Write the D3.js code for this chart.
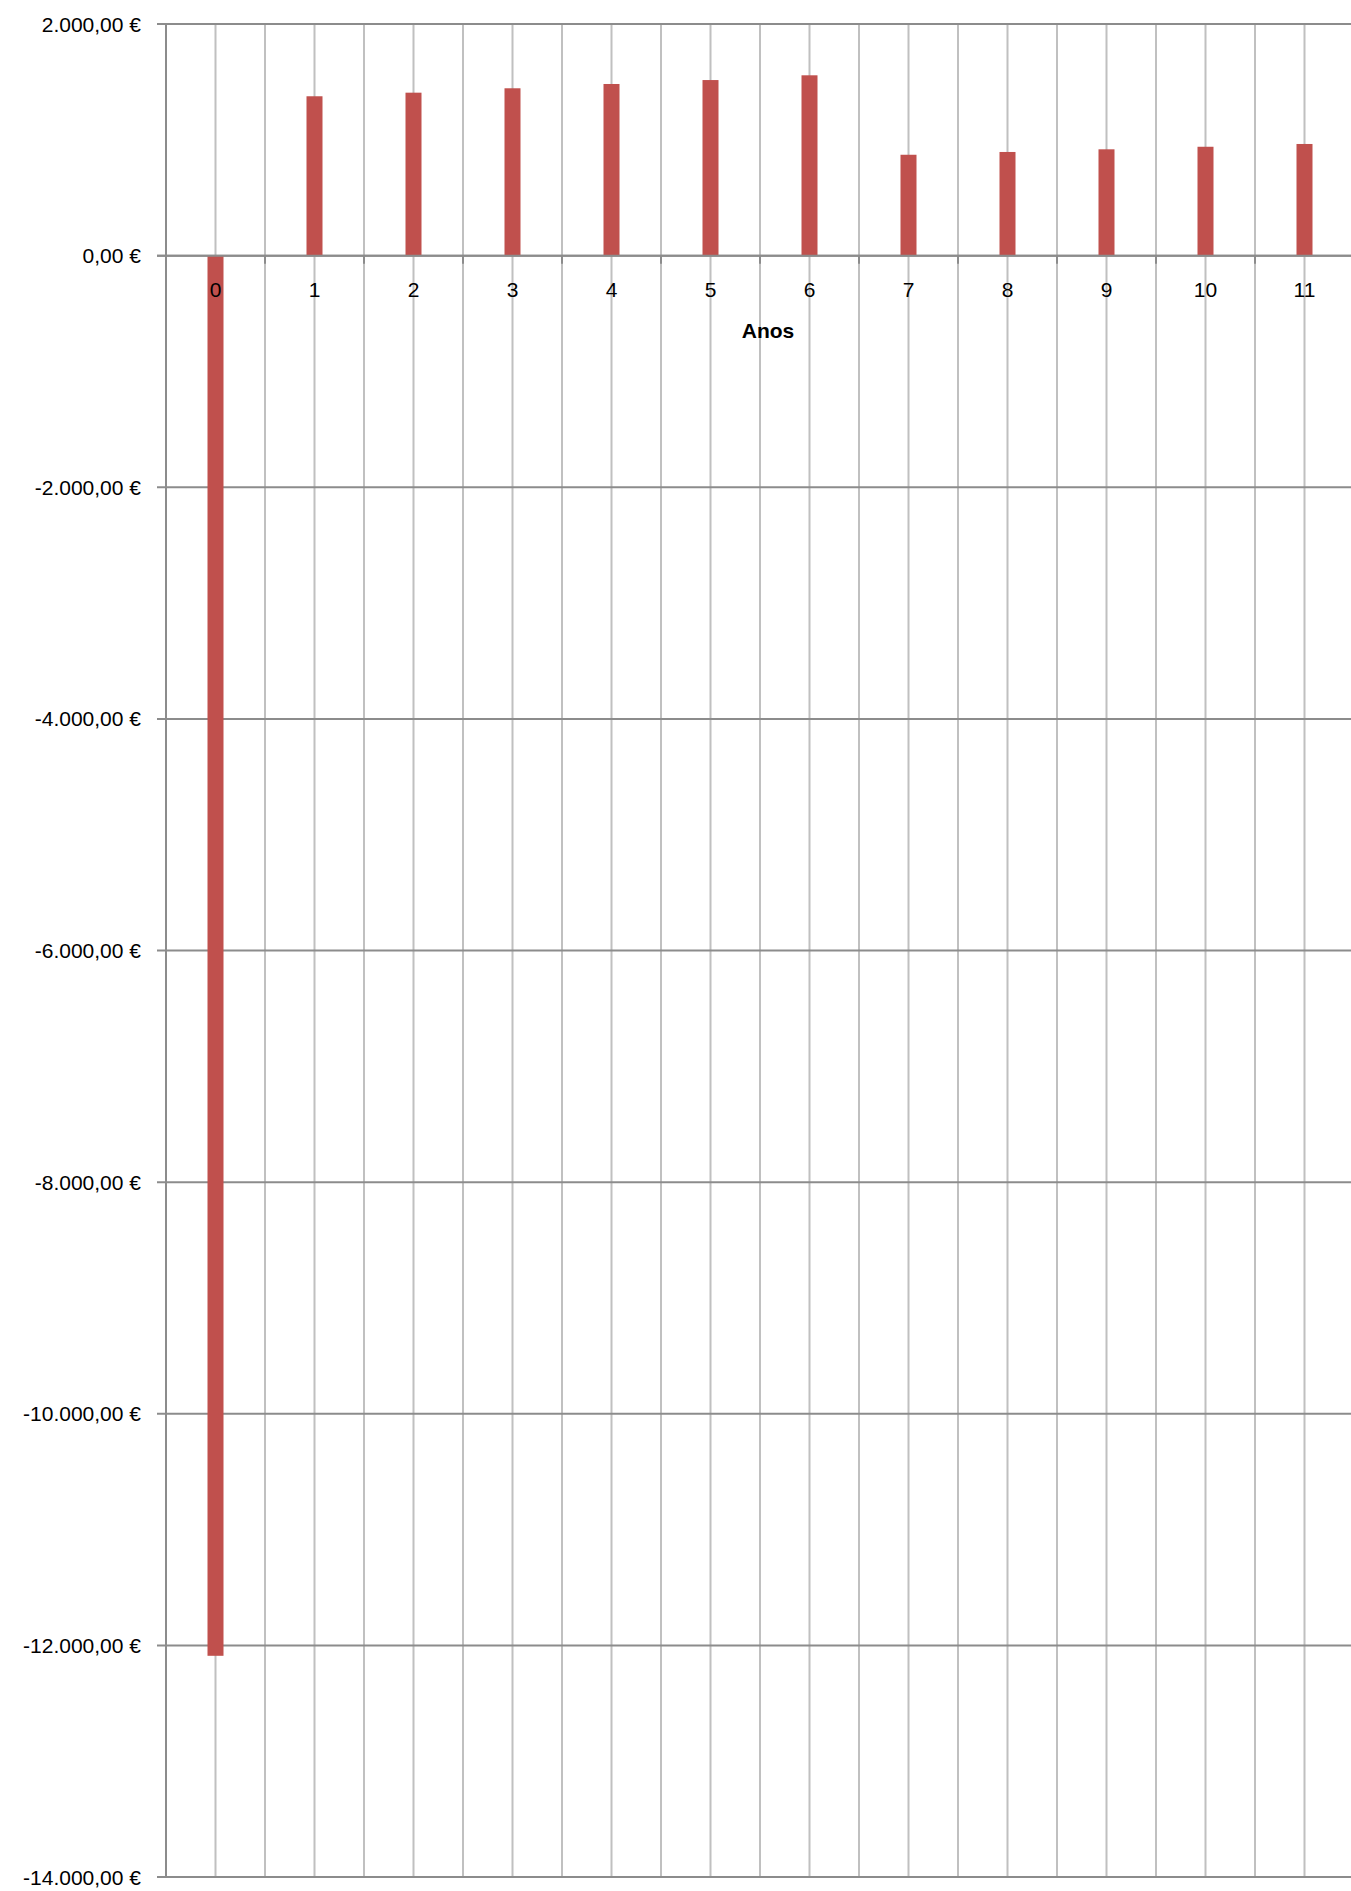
<!DOCTYPE html>
<html lang="pt">
<head>
    <meta charset="UTF-8">
    <title>Cash flow por ano</title>
    <script src="https://d3js.org/d3.v7.min.js"></script>
    <style>
        body { margin: 0; background: #fff; }
        svg { display: block; font-family: "Liberation Sans", Arial, sans-serif; }
        .hgrid { stroke: #8c8c8c; stroke-width: 2; }
        .vgrid { stroke: #c0c0c0; stroke-width: 2; }
        .tick-lab { font-size: 21px; fill: #000; }
    </style>
</head>
<body>
    <svg></svg>
    <script>
        // data
        const anos = [0, 1, 2, 3, 4, 5, 6, 7, 8, 9, 10, 11];
        const valores = [-12090, 1376, 1407, 1445, 1482, 1516, 1557, 871, 895, 918, 940, 964];
        const yTicks = [-14000, -12000, -10000, -8000, -6000, -4000, -2000, 0, 2000];

        const width = 1351, height = 1891;
        const svg = d3.select("svg").attr("width", width).attr("height", height);

        const plotLeft = 166, plotTop = 24, plotBottom = 1877;
        const x = d3.scaleBand().domain(anos).range([plotLeft, plotLeft + 12 * 99]);
        const y = d3.scaleLinear().domain([-14000, 2000]).range([plotBottom, plotTop]);

        const pt = d3.formatLocale({ decimal: ",", thousands: ".", grouping: [3], currency: ["", " €"], minus: "-" });
        const fmt = pt.format("$,.2f");

        // vertical gridlines: at category centres and boundaries
        const bounds = anos.map(d => x(d)).concat([x(11) + x.bandwidth()]);
        svg.append("g").selectAll("line")
            .data(bounds.concat(anos.map(d => x(d) + x.bandwidth() / 2)))
            .enter().append("line")
            .attr("class", "vgrid")
            .attr("x1", d => d).attr("x2", d => d)
            .attr("y1", plotTop).attr("y2", plotBottom);

        // horizontal gridlines
        svg.append("g").selectAll("line")
            .data(yTicks)
            .enter().append("line")
            .attr("class", "hgrid")
            .attr("x1", plotLeft - 9).attr("x2", width)
            .attr("y1", d => y(d)).attr("y2", d => y(d));

        // left axis line
        svg.append("line").attr("class", "hgrid")
            .attr("x1", plotLeft).attr("x2", plotLeft)
            .attr("y1", plotTop).attr("y2", plotBottom);

        // bars
        const barW = 16;
        svg.append("g").selectAll("rect")
            .data(valores)
            .enter().append("rect")
            .attr("x", (d, i) => x(anos[i]) + x.bandwidth() / 2 - barW / 2)
            .attr("width", barW)
            .attr("y", d => y(Math.max(0, d)))
            .attr("height", d => Math.abs(y(d) - y(0)))
            .attr("fill", "#c0504d");

        // zero line + boundary ticks
        svg.append("line").attr("class", "hgrid")
            .attr("x1", plotLeft - 9).attr("x2", width)
            .attr("y1", y(0)).attr("y2", y(0));
        svg.append("g").selectAll("line")
            .data(bounds)
            .enter().append("line")
            .attr("class", "hgrid")
            .attr("x1", d => d).attr("x2", d => d)
            .attr("y1", y(0)).attr("y2", y(0) + 8);

        // y labels
        svg.append("g").selectAll("text")
            .data(yTicks)
            .enter().append("text")
            .attr("class", "tick-lab")
            .attr("x", 141).attr("y", d => y(d))
            .attr("dy", "0.36em")
            .attr("text-anchor", "end")
            .text(d => fmt(d));

        // x labels
        svg.append("g").selectAll("text")
            .data(anos)
            .enter().append("text")
            .attr("class", "tick-lab")
            .attr("x", d => x(d) + x.bandwidth() / 2)
            .attr("y", 297)
            .attr("text-anchor", "middle")
            .text(d => d);

        svg.append("text")
            .attr("x", 768).attr("y", 338)
            .attr("text-anchor", "middle")
            .style("font-size", "21px").style("font-weight", "bold")
            .text("Anos");
    </script>
</body>
</html>
